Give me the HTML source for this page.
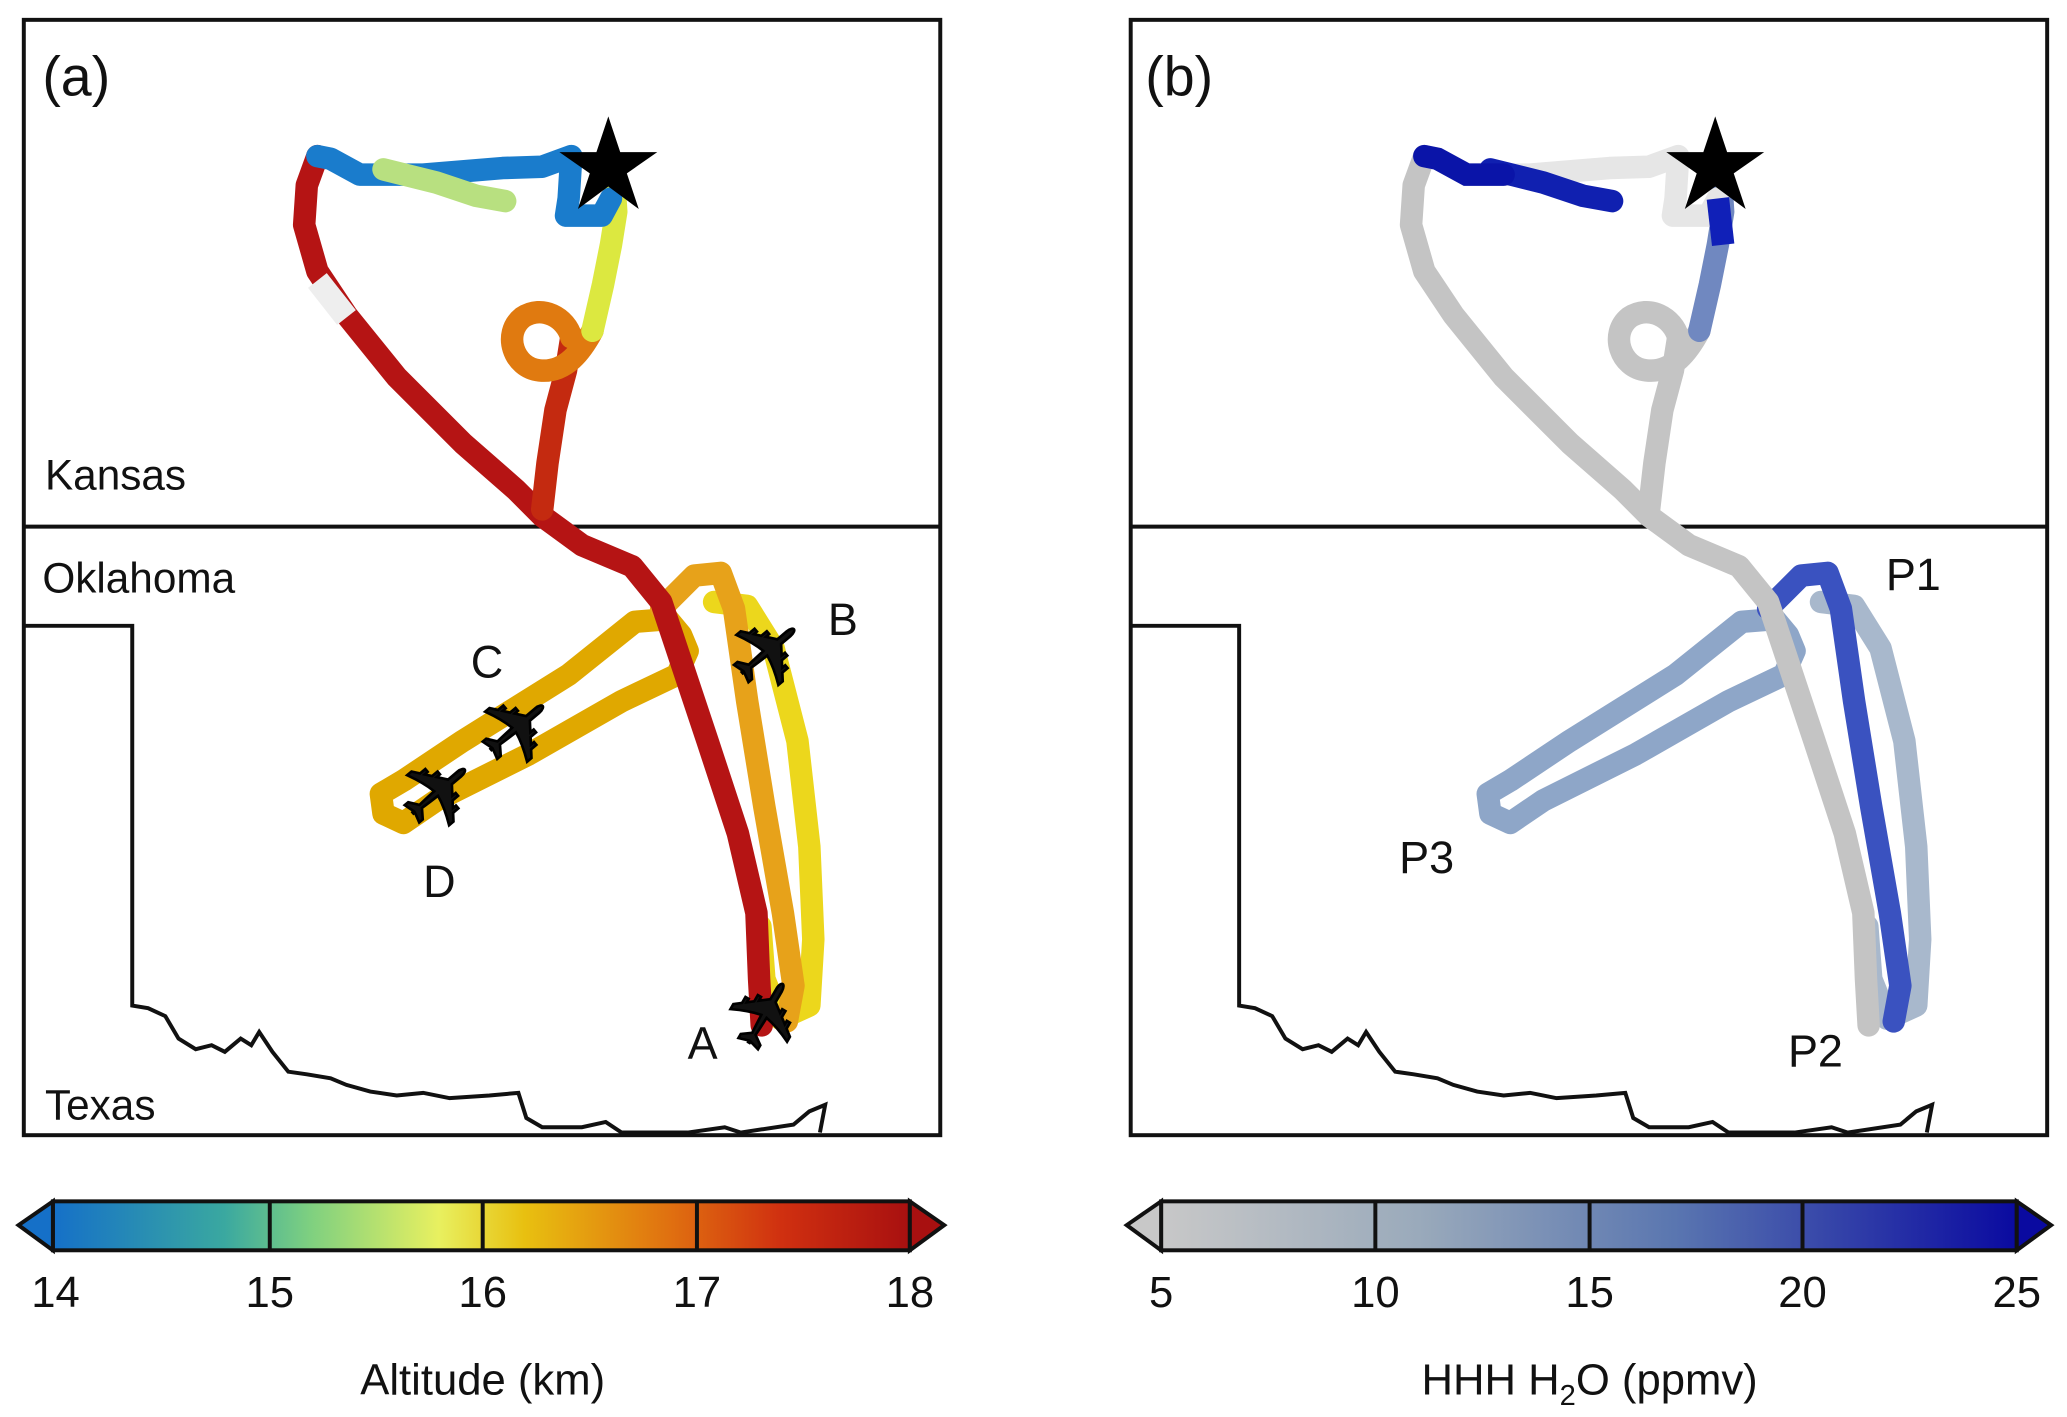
<!DOCTYPE html>
<html><head><meta charset="utf-8"><style>
html,body{margin:0;padding:0;background:#fff;}
svg{display:block;}
text{font-family:"Liberation Sans",sans-serif;fill:#111;}
</style></head><body>
<svg width="2067" height="1417" viewBox="0 0 1563 1071" preserveAspectRatio="none" xmlns="http://www.w3.org/2000/svg">
<defs>
<path id="redA" d="M240,118 L232,140 L230,170 L240,205 L262,238 L300,285 L350,335 L390,370 L410,390 L440,412 L478,428 L500,455 L515,500 L535,560 L558,630 L572,690 L574,740 L576,775" fill="none"/>
<path id="red2" d="M410,385 L414,350 L420,310 L428,280 L432,255" fill="none"/>
<path id="loop" d="M432,255 C428,240 410,230 395,240 C380,252 388,278 408,280 C428,282 440,265 448,250" fill="none"/>
<path id="upA" d="M448,250 L456,215 L462,185 L466,160 L464,130" fill="none"/>
<path id="topA" d="M240,118 L250,120 L272,132 L320,132 L380,127 L410,126 L432,118 L430,150 L428,163 L455,163 L462,150" fill="none"/>
<path id="stub" d="M290,128 L330,138 L360,148 L382,152" fill="none"/>
<path id="legB" d="M500,460 L525,435 L545,433 L555,460 L565,530 L578,610 L592,690 L600,745 L595,772" fill="none"/>
<path id="legB2" d="M540,455 L565,458 L585,490 L603,560 L612,640 L615,710 L612,760 L590,770 L578,740 L575,700" fill="none"/>
<path id="legCD" d="M515,480 L505,468 L480,470 L430,510 L350,560 L305,590 L288,600 L290,615 L305,622 L330,605 L400,570 L470,530 L512,510 L520,492 Z" fill="none"/>
</defs>

<!-- Panel a -->
<rect x="18" y="15" width="693" height="843" fill="#fff" stroke="#111" stroke-width="3"/>
<line x1="18" y1="398" x2="711" y2="398" stroke="#111" stroke-width="3"/>
<polyline points="18,473 100,473 100,760 112,762 125,768 135,785 148,793 160,790 170,795 182,785 190,790 196,780 206,795 218,810 232,812 250,815 262,820 280,825 300,828 320,826 340,830 370,828 392,826 398,845 410,852 440,852 458,848 470,856 520,856 548,852 560,856 600,850 612,840 624,835 620,856" fill="none" stroke="#111" stroke-width="3"/>
<g stroke-width="17" stroke-linejoin="round" stroke-linecap="round">
<use href="#legCD" stroke="#e0a800"/>
<use href="#legB2" stroke="#ecd71c"/>
<use href="#legB" stroke="#e7a21a"/>
<use href="#redA" stroke="#b51414"/>
<use href="#red2" stroke="#c42a10"/>
<use href="#loop" stroke="#e07a10"/>
<use href="#upA" stroke="#dce840"/>
<use href="#topA" stroke="#1a7ccc"/>
<use href="#stub" stroke="#b8e080"/>
</g>
<line x1="240" y1="212" x2="262" y2="240" stroke="#eee" stroke-width="18"/>
<text x="32" y="72" font-size="42">(a)</text>
<text x="34" y="370" font-size="32">Kansas</text>
<text x="32" y="448" font-size="32">Oklahoma</text>
<text x="34" y="846" font-size="32">Texas</text>
<text x="626" y="480" font-size="34">B</text>
<text x="356" y="512" font-size="34">C</text>
<text x="320" y="678" font-size="34">D</text>
<text x="520" y="800" font-size="34">A</text>
<g font-size="72" font-family="DejaVu Sans" fill="#000" stroke="#000" stroke-width="2">
<text x="0" y="0" transform="translate(585,498) rotate(-40)" text-anchor="middle" dominant-baseline="middle">✈</text>
<text x="0" y="0" transform="translate(395,556) rotate(-40)" text-anchor="middle" dominant-baseline="middle">✈</text>
<text x="0" y="0" transform="translate(336,604) rotate(-40)" text-anchor="middle" dominant-baseline="middle">✈</text>
<text x="0" y="0" transform="translate(585,770) rotate(-60)" text-anchor="middle" dominant-baseline="middle">✈</text>
</g>
<polygon points="460,88 469,115 497,115 474,131 483,158 460,141 437,158 446,131 423,115 451,115" fill="#000"/>

<!-- Panel b -->
<rect x="855" y="15" width="693" height="843" fill="#fff" stroke="#111" stroke-width="3"/>
<line x1="855" y1="398" x2="1548" y2="398" stroke="#111" stroke-width="3"/>
<g transform="translate(837,0)">
<polyline points="18,473 100,473 100,760 112,762 125,768 135,785 148,793 160,790 170,795 182,785 190,790 196,780 206,795 218,810 232,812 250,815 262,820 280,825 300,828 320,826 340,830 370,828 392,826 398,845 410,852 440,852 458,848 470,856 520,856 548,852 560,856 600,850 612,840 624,835 620,856" fill="none" stroke="#111" stroke-width="3"/>
<g stroke-width="17" stroke-linejoin="round" stroke-linecap="round">
<use href="#legCD" stroke="#8ea6c8"/>
<use href="#legB2" stroke="#a8b8cc"/>
<use href="#legB" stroke="#3a52c0"/>
<use href="#redA" stroke="#c4c4c4"/>
<use href="#red2" stroke="#c4c4c4"/>
<use href="#loop" stroke="#c4c4c4"/>
<use href="#upA" stroke="#7088c0"/>
<use href="#topA" stroke="#e6e6e6"/>
<use href="#stub" stroke="#1020b0"/>
</g>
<path d="M240,118 L250,120 L272,132 L300,132" fill="none" stroke="#0a14a8" stroke-width="17" stroke-linecap="round"/>
<line x1="462" y1="150" x2="466" y2="185" stroke="#1020b8" stroke-width="17"/>
</g>
<text x="866" y="72" font-size="42">(b)</text>
<text x="1426" y="446" font-size="34">P1</text>
<text x="1352" y="806" font-size="34">P2</text>
<text x="1058" y="660" font-size="34">P3</text>
<polygon points="1297,88 1306,115 1334,115 1311,131 1320,158 1297,141 1274,158 1283,131 1260,115 1288,115" fill="#000"/>

<defs>
<linearGradient id="ga" x1="0" x2="1">
<stop offset="0" stop-color="#1570c8"/><stop offset="0.2" stop-color="#3aa8a0"/><stop offset="0.3" stop-color="#7ed080"/><stop offset="0.45" stop-color="#e8f060"/><stop offset="0.55" stop-color="#e8c010"/><stop offset="0.72" stop-color="#e07010"/><stop offset="0.85" stop-color="#d03010"/><stop offset="1" stop-color="#a81010"/>
</linearGradient>
<linearGradient id="gb" x1="0" x2="1">
<stop offset="0" stop-color="#c8c8c8"/><stop offset="0.3" stop-color="#9aaabb"/><stop offset="0.6" stop-color="#5a76b0"/><stop offset="1" stop-color="#0a0aa0"/>
</linearGradient>
</defs>
<rect x="40" y="908" width="648" height="37" fill="url(#ga)" stroke="#111" stroke-width="3"/>
<polygon points="40,908 14,926 40,945" fill="#1570c8" stroke="#111" stroke-width="3"/>
<polygon points="688,908 714,926 688,945" fill="#a81010" stroke="#111" stroke-width="3"/>
<g stroke="#111" stroke-width="3"><line x1="204" y1="908" x2="204" y2="945"/><line x1="365" y1="908" x2="365" y2="945"/><line x1="527" y1="908" x2="527" y2="945"/></g>
<g font-size="33" text-anchor="middle"><text x="42" y="988">14</text><text x="204" y="988">15</text><text x="365" y="988">16</text><text x="527" y="988">17</text><text x="688" y="988">18</text>
<text x="365" y="1054">Altitude (km)</text></g>

<rect x="878" y="908" width="647" height="37" fill="url(#gb)" stroke="#111" stroke-width="3"/>
<polygon points="878,908 852,926 878,945" fill="#c8c8c8" stroke="#111" stroke-width="3"/>
<polygon points="1525,908 1551,926 1525,945" fill="#0a0aa0" stroke="#111" stroke-width="3"/>
<g stroke="#111" stroke-width="3"><line x1="1040" y1="908" x2="1040" y2="945"/><line x1="1202" y1="908" x2="1202" y2="945"/><line x1="1363" y1="908" x2="1363" y2="945"/></g>
<g font-size="33" text-anchor="middle"><text x="878" y="988">5</text><text x="1040" y="988">10</text><text x="1202" y="988">15</text><text x="1363" y="988">20</text><text x="1525" y="988">25</text>
<text x="1202" y="1054">HHH H<tspan font-size="22" dy="8">2</tspan><tspan dy="-8">O (ppmv)</tspan></text></g>
</svg>
</body></html>
